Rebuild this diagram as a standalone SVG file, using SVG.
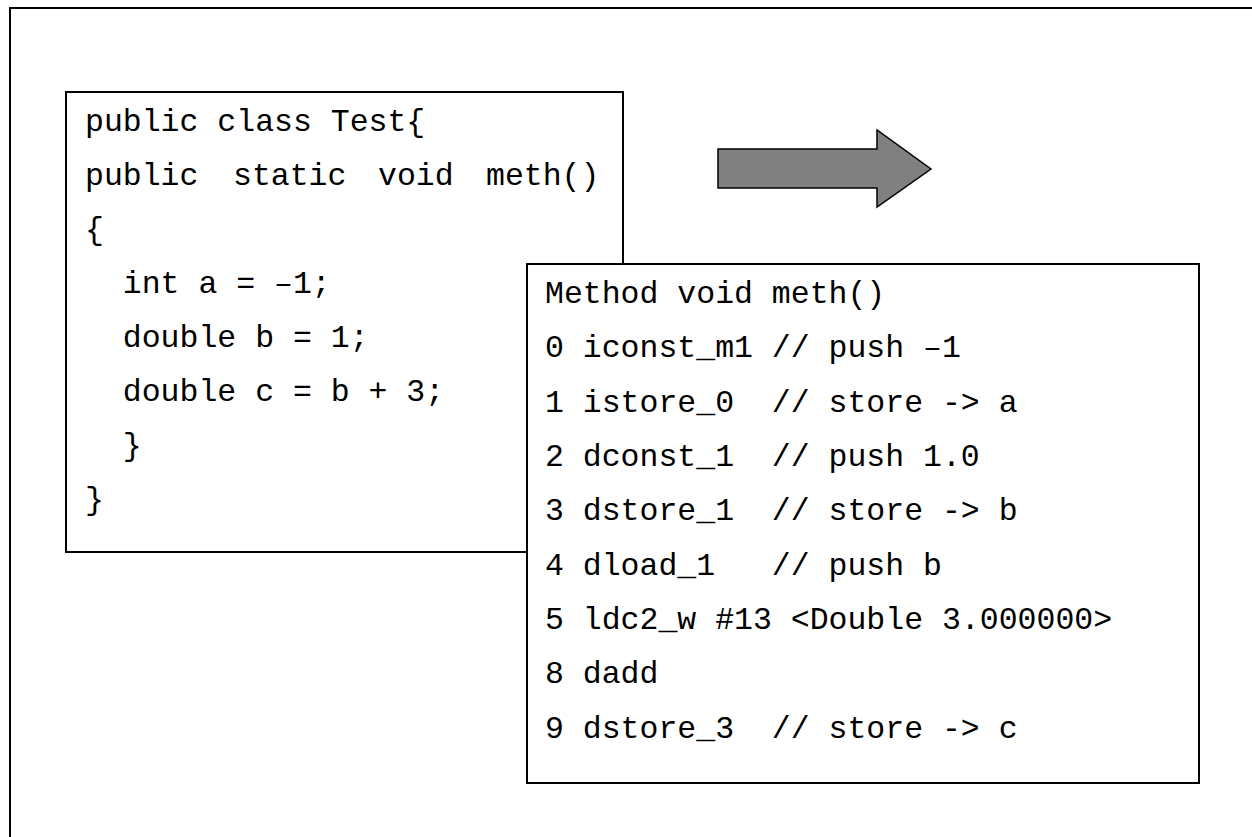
<svg xmlns="http://www.w3.org/2000/svg" width="1252" height="837" viewBox="0 0 1252 837">
  <style>
    .frame { fill: none; stroke: #000; stroke-width: 2; }
    .box { fill: #fff; stroke: #000; stroke-width: 2; }
    .code { font-family: "Liberation Mono", "Courier New", monospace; font-size: 31.5px; fill: #000; white-space: pre; }
    .arrow { fill: #808080; stroke: #000; stroke-width: 1.5; stroke-linejoin: miter; }
  </style>
  <rect width="1252" height="837" fill="#fff"/>
  <!-- page frame, right and bottom edges run off the canvas -->
  <rect class="frame" x="10" y="8" width="1260" height="860"/>

  <!-- Java source -->
  <g id="source">
    <rect class="box" x="66" y="92" width="557" height="460"/>
    <text class="code" xml:space="preserve">
      <tspan x="85" y="131">public class Test{</tspan>
      <tspan x="85" y="185">public</tspan><tspan x="233" y="185">static</tspan><tspan x="378" y="185">void</tspan><tspan x="486" y="185">meth()</tspan>
      <tspan x="85" y="239">{</tspan>
      <tspan x="85" y="293">  int a = –1;</tspan>
      <tspan x="85" y="347">  double b = 1;</tspan>
      <tspan x="85" y="401">  double c = b + 3;</tspan>
      <tspan x="85" y="455">  }</tspan>
      <tspan x="85" y="509">}</tspan>
    </text>
  </g>

  <!-- compile arrow -->
  <g id="compile-arrow">
    <polygon class="arrow" points="718,149 877,149 877,130 931,169 877,207 877,188 718,188"/>
  </g>

  <!-- bytecode listing -->
  <g id="bytecode">
    <rect class="box" x="527" y="264" width="672" height="519"/>
    <text class="code" xml:space="preserve">
      <tspan x="545" y="303">Method void meth()</tspan>
      <tspan x="545" y="357">0 iconst_m1 // push –1</tspan>
      <tspan x="545" y="412">1 istore_0  // store -&gt; a</tspan>
      <tspan x="545" y="466">2 dconst_1  // push 1.0</tspan>
      <tspan x="545" y="520">3 dstore_1  // store -&gt; b</tspan>
      <tspan x="545" y="575">4 dload_1   // push b</tspan>
      <tspan x="545" y="629">5 ldc2_w #13 &lt;Double 3.000000&gt;</tspan>
      <tspan x="545" y="683">8 dadd</tspan>
      <tspan x="545" y="738">9 dstore_3  // store -&gt; c</tspan>
    </text>
  </g>
</svg>
